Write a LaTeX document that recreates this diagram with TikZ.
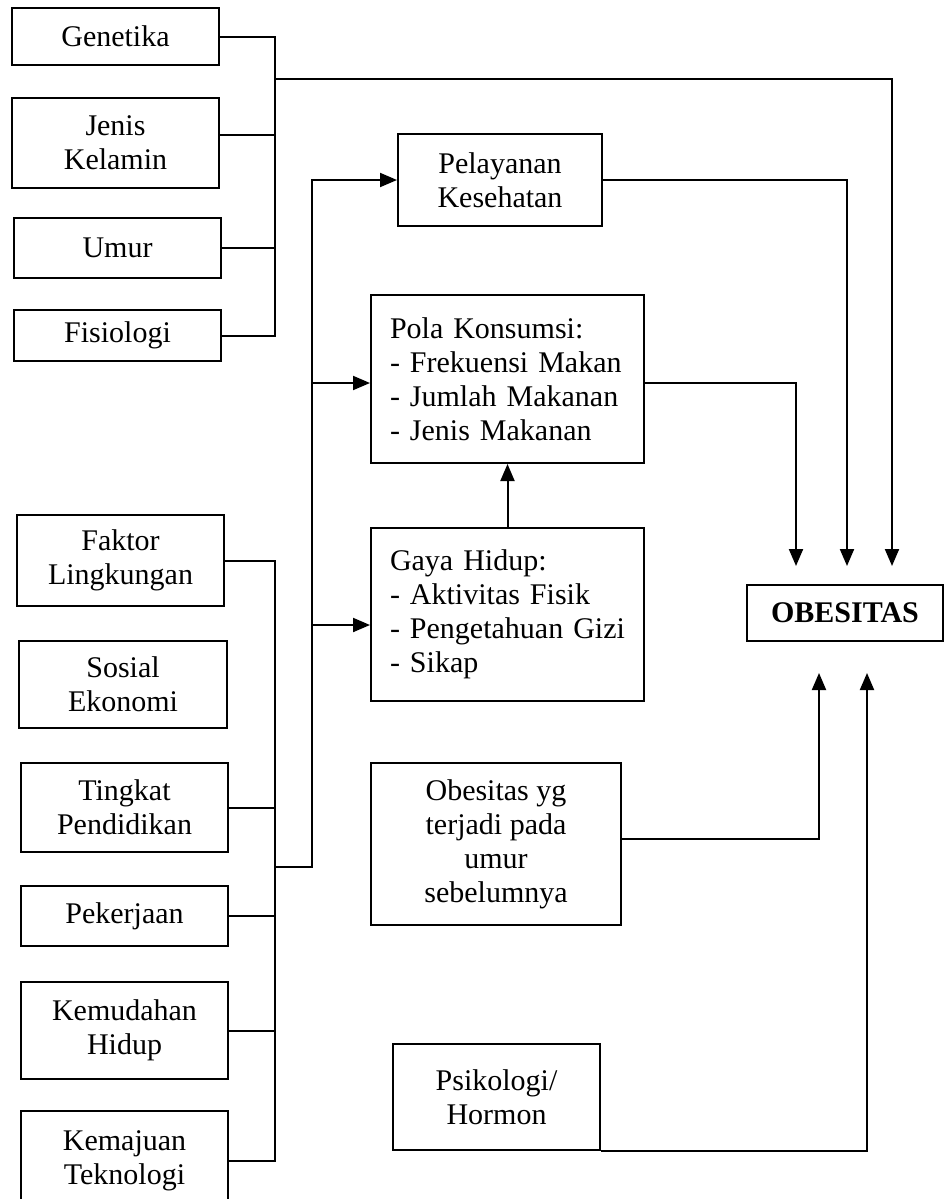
\documentclass[tikz,border=0pt]{standalone}
\usepackage{fontspec}
\setmainfont{Liberation Serif}
\usetikzlibrary{arrows.meta,calc}
\begin{document}
\begin{tikzpicture}[x=0.5pt,y=-0.5pt,
  box/.style={draw,line width=1pt,rectangle,inner sep=0pt,align=center,
    font=\fontsize{15}{17}\selectfont},
  listbox/.style={box,align=left,text width=117.5pt},
  ln/.style={line width=1pt},
  arr/.style={line width=1pt,-{Triangle[length=8.5pt,width=7pt]}}]
\useasboundingbox (0,0) rectangle (945,1199);
% left top group
\node[box,minimum width=103.5pt,minimum height=28.5pt] (gen) at (115.5,36.5) {Genetika};
\node[box,minimum width=103.5pt,minimum height=45pt] (jk) at (115.5,143) {Jenis\\Kelamin};
\node[box,minimum width=103.5pt,minimum height=30pt] (umur) at (117.5,248) {Umur};
\node[box,minimum width=103.5pt,minimum height=25.5pt] (fis) at (117.5,335.5) {Fisiologi};
% left bottom group
\node[box,minimum width=103.5pt,minimum height=45.5pt] (fl) at (120.5,560.5) {Faktor\\Lingkungan};
\node[box,minimum width=104pt,minimum height=43.5pt] (se) at (123,684.5) {Sosial\\Ekonomi};
\node[box,minimum width=103.5pt,minimum height=44.5pt] (tp) at (124.5,807.5) {Tingkat\\Pendidikan};
\node[box,minimum width=103.5pt,minimum height=30pt] (pk) at (124.5,916) {Pekerjaan};
\node[box,minimum width=103.5pt,minimum height=48.5pt] (kh) at (124.5,1030.5) {Kemudahan\\Hidup};
\node[box,minimum width=103.5pt,minimum height=50pt] (kt) at (124.5,1161) {Kemajuan\\Teknologi};
% middle
\node[box,minimum width=102pt,minimum height=46pt] (pel) at (500,180) {Pelayanan\\Kesehatan};
\node[listbox,minimum width=136.5pt,minimum height=84pt] (pola) at (507.5,379)
  {Pola Konsumsi:\\- Frekuensi Makan\\- Jumlah Makanan\\- Jenis Makanan};
\node[listbox,minimum width=136.5pt,minimum height=86.5pt] (gaya) at (507.5,614.5)
  {Gaya Hidup:\\- Aktivitas Fisik\\- Pengetahuan Gizi\\- Sikap};
\node[box,minimum width=125pt,minimum height=81pt] (oyg) at (496,844)
  {Obesitas yg\\terjadi pada\\umur\\sebelumnya};
\node[box,minimum width=103.5pt,minimum height=53pt] (psi) at (496.5,1097) {Psikologi/\\Hormon};
% target
\node[box,minimum width=98pt,minimum height=28pt,font=\fontsize{15}{17}\selectfont\bfseries] (obes) at (845,613) {OBESITAS};
% bus coordinates
\coordinate (tbj) at (275,79);
\coordinate (bbj) at (275,867);
\coordinate (rb) at (312,867);
% top bus
\draw[ln] (gen.east) -| (tbj |- fis.east) -- (fis.east);
\draw[ln] ([yshift=4pt]jk.east) -- ([yshift=4pt]jk.east -| tbj);
\draw[ln] (umur.east) -- (umur.east -| tbj);
\draw[arr,shorten >=9pt] (tbj) -| ([xshift=23.5pt]obes.north);
% bottom bus
\draw[ln] (fl.east) -| (bbj |- kt.east) -- (kt.east);
\draw[ln] (tp.east) -- (tp.east -| bbj);
\draw[ln] (pk.east) -- (pk.east -| bbj);
\draw[ln] (kh.east) -- (kh.east -| bbj);
\draw[arr] (bbj) -- (rb) |- (pel.west);
\draw[arr] ([yshift=-2pt]pola.west -| rb) -- ([yshift=-2pt]pola.west);
\draw[arr] ([yshift=-5.25pt]gaya.west -| rb) -- ([yshift=-5.25pt]gaya.west);
% middle connections
\draw[arr] (gaya.north) -- (pola.south);
\draw[arr,shorten >=9pt] ([yshift=-2pt]pola.east) -| ([xshift=-24.5pt]obes.north);
\draw[arr,shorten >=9pt] (pel.east) -| ([xshift=1pt]obes.north);
\draw[arr,shorten >=15.5pt] ([yshift=2.5pt]oyg.east) -| ([xshift=-13pt]obes.south);
\draw[arr,shorten >=15.5pt] (psi.south east) -| ([xshift=11pt]obes.south);
\end{tikzpicture}
\end{document}
